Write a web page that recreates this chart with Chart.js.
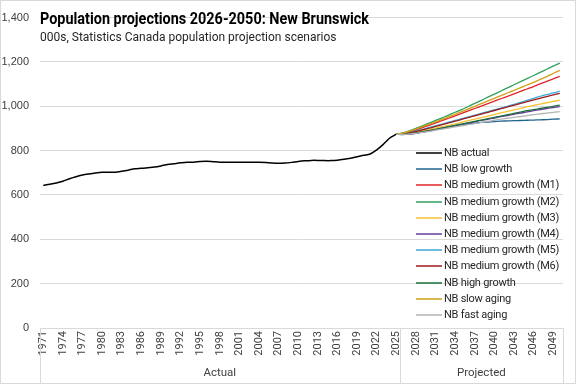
<!DOCTYPE html>
<html>
<head>
<meta charset="utf-8">
<script src="https://cdn.jsdelivr.net/npm/chart.js@4/dist/chart.umd.min.js"></script>
<style>
  html, body { margin: 0; padding: 0; background: #fff; }
  #wrap { position: relative; width: 576px; height: 384px; overflow: hidden; }
  canvas { position: absolute; left: 0; top: 0; }
  #title { position: absolute; left: 40px; top: 7px; font-family: "Roboto", sans-serif; font-weight: bold; font-size: 17px; color: #000; white-space: nowrap; line-height: 22px; transform-origin: left center; display: inline-block; }
  #subtitle { position: absolute; left: 40px; top: 29px; font-family: "Roboto", sans-serif; font-size: 12px; color: #262626; white-space: nowrap; line-height: 16px; }
  .li { position: absolute; left: 444px; height: 16px; line-height: 16px; font-family: "Roboto", sans-serif; font-size: 11px; letter-spacing: -0.25px; color: #262626; white-space: nowrap; }
</style>
</head>
<body>
<div id="wrap">
  <canvas id="c" width="576" height="384"></canvas>
  <div id="title">Population projections 2026-2050: New Brunswick</div>
  <div id="subtitle">000s, Statistics Canada population projection scenarios</div>
  <div id="legend"></div>
</div>
<script>
// ---- Data (thousands) ----
const years = [];
for (let y = 1971; y <= 2050; y++) years.push(String(y));

const nbActual = [643,648,654,662,673,682,690,695,699,702,
                  703,703,707,712,718,720,723,726,731,737,
                  741,745,748,748,751,752,750,748,748,748,
                  748,748,748,748,747,744,743,744,747,751,
                  754,756,756,755,755,757,761,766,772,779,
                  785,803,828,857,874];

const nbLowGrowth = [874,872,874,878,883,889,895,901,907,912,917,921,924,927,929,931,933,934,935,936,937,938,939,940,942,943];
const nbM1 = [874,878,885,894,904,914,924,935,946,957,968,979,990,1001,1012,1023,1034,1045,1056,1067,1078,1089,1101,1112,1124,1135];
const nbM2 = [874,880,889,900,912,924,936,948,960,973,985,999,1013,1027,1041,1055,1069,1083,1097,1111,1125,1139,1153,1167,1181,1195];
const nbM3 = [874,875,878,883,889,895,901,908,914,921,928,935,942,949,956,963,970,977,984,991,998,1004,1010,1016,1022,1028];
const nbM4 = [874,873,875,879,884,889,895,901,907,913,918,924,930,936,941,947,953,958,964,969,975,980,985,990,994,998];
const nbM5 = [874,877,882,889,896,904,912,920,928,936,944,952,960,968,976,984,992,1000,1009,1018,1027,1036,1045,1053,1060,1068];
const nbM6 = [874,876,881,887,894,901,909,917,925,933,941,949,957,965,973,981,989,997,1005,1013,1021,1029,1036,1044,1051,1058];
const nbHighGrowth = [874,874,876,880,885,890,896,902,908,914,920,926,932,938,944,950,956,962,968,974,980,985,990,995,1000,1005];
const nbSlowAging = [874,879,887,897,908,919,930,941,952,964,976,988,1000,1012,1024,1036,1048,1060,1072,1084,1096,1108,1121,1134,1148,1162];
const nbFastAging = [874,873,875,878,882,887,892,897,902,907,912,917,922,927,932,937,942,946,950,954,958,962,966,969,973,976];

const yTicks = [0,200,400,600,800,1000,1200,1400];
const groups = ["Actual", "Projected"];

// ---- Build datasets ----
function padActual(arr) { return years.map((y, i) => i < arr.length ? arr[i] : null); }
function padProj(arr) { return years.map((y, i) => i >= 54 ? arr[i - 54] : null); }

const series = [
  { label: "NB actual", data: padActual(nbActual), color: "#000000" },
  { label: "NB low growth", data: padProj(nbLowGrowth), color: "#1f6391" },
  { label: "NB medium growth (M1)", data: padProj(nbM1), color: "#e0242a" },
  { label: "NB medium growth (M2)", data: padProj(nbM2), color: "#2fa05e" },
  { label: "NB medium growth (M3)", data: padProj(nbM3), color: "#f5c230" },
  { label: "NB medium growth (M4)", data: padProj(nbM4), color: "#6a3d9a" },
  { label: "NB medium growth (M5)", data: padProj(nbM5), color: "#3fa9d8" },
  { label: "NB medium growth (M6)", data: padProj(nbM6), color: "#9e1b1b" },
  { label: "NB high growth", data: padProj(nbHighGrowth), color: "#17703b" },
  { label: "NB slow aging", data: padProj(nbSlowAging), color: "#cf9f14" },
  { label: "NB fast aging", data: padProj(nbFastAging), color: "#b3b3b3" }
];

const datasets = series.map((s, i) => ({
  label: s.label,
  data: s.data,
  borderColor: s.color,
  backgroundColor: s.color,
  borderWidth: i === 0 ? 1.5 : 1.3,
  pointRadius: 0,
  tension: 0.3,
  spanGaps: false,
  order: series.length - i
}));

// ---- Title width fit (narrow face in original) ----
const titleEl = document.getElementById('title');
const tw = titleEl.getBoundingClientRect().width;
if (tw > 0) titleEl.style.transform = 'scaleX(' + (329 / tw).toFixed(3) + ')';

// ---- Legend: text as HTML, swatches on canvas ----
const legTop = 153, legStep = 16.2;
const leg = document.getElementById('legend');
series.forEach((s, i) => {
  const d = document.createElement('div'); d.className = 'li';
  d.style.top = (Math.round(legTop + i * legStep) - 8) + 'px';
  d.textContent = s.label;
  leg.appendChild(d);
});

// ---- Group axis + legend swatch plugin ----
const groupAxis = {
  id: 'groupAxis',
  afterDraw(chart) {
    const { ctx, chartArea } = chart;
    const xs = chart.scales.x;
    const div = (xs.getPixelForValue(54) + xs.getPixelForValue(55)) / 2;
    ctx.save();
    ctx.strokeStyle = '#d9d9d9';
    ctx.lineWidth = 1;
    [chartArea.left, div, chartArea.right].forEach(x => {
      const px = Math.round(x) + 0.5;
      ctx.beginPath(); ctx.moveTo(px, chartArea.bottom); ctx.lineTo(px, 384); ctx.stroke();
    });
    ctx.strokeRect(0.5, 0.5, 575, 383);
    ctx.fillStyle = '#404040';
    ctx.font = '11.5px Roboto, sans-serif';
    ctx.textAlign = 'center';
    ctx.textBaseline = 'middle';
    ctx.fillText(groups[0], (chartArea.left + div) / 2, 373);
    ctx.fillText(groups[1], (div + chartArea.right) / 2, 373);
    // legend swatches
    ctx.lineWidth = 1.5;
    series.forEach((s, i) => {
      const y = Math.round(legTop + i * legStep);
      ctx.strokeStyle = s.color;
      ctx.beginPath(); ctx.moveTo(416, y); ctx.lineTo(442, y); ctx.stroke();
    });
    ctx.restore();
  }
};

new Chart(document.getElementById('c'), {
  type: 'line',
  data: { labels: years, datasets },
  plugins: [groupAxis],
  options: {
    responsive: false,
    animation: false,
    layout: { padding: { top: 7, right: 4, bottom: 28, left: 0 } },
    plugins: { legend: { display: false }, title: { display: false }, tooltip: { enabled: false } },
    scales: {
      x: {
        type: 'category',
        offset: true,
        grid: { display: false, drawTicks: false },
        border: { display: true, color: '#d9d9d9' },
        ticks: {
          autoSkip: false, maxRotation: 90, minRotation: 90, padding: 3,
          color: '#404040', font: { family: 'Roboto', size: 11 },
          callback: (v, i) => (i % 3 === 0 ? years[i] : '')
        },
        afterFit: s => { s.height = 28; }
      },
      y: {
        min: 0, max: 1400,
        afterBuildTicks: s => { s.ticks = yTicks.map(v => ({ value: v })); },
        grid: { color: '#d9d9d9', drawTicks: false },
        border: { display: false },
        ticks: {
          padding: 11, color: '#404040', font: { family: 'Liberation Sans', size: 11 },
          callback: v => v.toLocaleString('en-US')
        },
        afterFit: s => { s.width = 40; }
      }
    }
  }
});
</script>
</body>
</html>
